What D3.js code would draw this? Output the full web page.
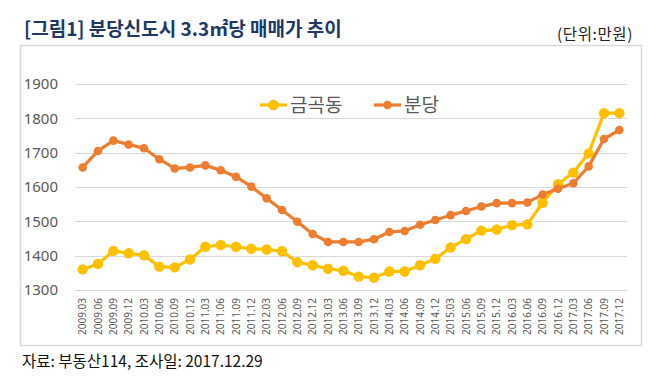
<!DOCTYPE html>
<html>
<head>
<meta charset="utf-8">
<script src="https://cdn.jsdelivr.net/npm/d3@7"></script>
<style>
  body { margin: 0; background: #fff; }
  svg text { font-family: "Noto Sans CJK KR", "Noto Sans", sans-serif; }
</style>
</head>
<body>
<div id="chart"></div>
<script>
const periods = [
  '2009.03', '2009.06', '2009.09', '2009.12', '2010.03', '2010.06', '2010.09', '2010.12',
  '2011.03', '2011.06', '2011.09', '2011.12', '2012.03', '2012.06', '2012.09', '2012.12',
  '2013.03', '2013.06', '2013.09', '2013.12', '2014.03', '2014.06', '2014.09', '2014.12',
  '2015.03', '2015.06', '2015.09', '2015.12', '2016.03', '2016.06', '2016.09', '2016.12',
  '2017.03', '2017.06', '2017.09', '2017.12',
];
const geumgok = [
  1360, 1376, 1414, 1407, 1401, 1368, 1366, 1389, 1426, 1431, 1426, 1420,
  1418, 1413, 1381, 1372, 1362, 1356, 1339, 1336, 1354, 1354, 1372, 1391,
  1424, 1448, 1473, 1476, 1489, 1491, 1554, 1608, 1642, 1698, 1815, 1815,
];
const bundang = [
  1657, 1705, 1735, 1724, 1713, 1681, 1654, 1657, 1663, 1649, 1630, 1601,
  1567, 1533, 1499, 1463, 1440, 1440, 1440, 1448, 1469, 1472, 1490, 1504,
  1518, 1530, 1543, 1553, 1553, 1555, 1578, 1595, 1611, 1660, 1740, 1766,
];
const yTicks = [1300, 1400, 1500, 1600, 1700, 1800, 1900];

const series = [
  { name: '금곡동', values: geumgok, color: '#FFC000', r: 5.2 },
  { name: '분당', values: bundang, color: '#ED7D31', r: 4.3 },
];

const width = 669;
const height = 386;

const svg = d3
  .select('#chart')
  .append('svg')
  .attr('width', width)
  .attr('height', height);

// title + unit
svg.append('text')
  .attr('x', 24)
  .attr('y', 36)
  .attr('font-size', 19)
  .attr('font-weight', 'bold')
  .attr('fill', '#203864')
  .text('[그림1] 분당신도시 3.3㎡당 매매가 추이');

svg.append('text')
  .attr('x', 633)
  .attr('y', 40)
  .attr('text-anchor', 'end')
  .attr('font-size', 15.5)
  .attr('letter-spacing', 0.6)
  .attr('fill', '#222')
  .text('(단위:만원)');

// chart frame
svg.append('rect')
  .attr('x', 20.5)
  .attr('y', 45.5)
  .attr('width', 621)
  .attr('height', 300)
  .attr('fill', 'none')
  .attr('stroke', '#d9d9d9')
  .attr('stroke-width', 1.5);

const x = d3.scaleBand().domain(periods).range([75, 627]);
const y = d3.scaleLinear().domain([1300, 1900]).range([290, 84]);

// gridlines
svg.append('g')
  .selectAll('line')
  .data(yTicks)
  .join('line')
  .attr('x1', 75)
  .attr('x2', 627)
  .attr('y1', d => Math.round(y(d)) + 0.5)
  .attr('y2', d => Math.round(y(d)) + 0.5)
  .attr('stroke', '#d9d9d9')
  .attr('stroke-width', 1);

// y labels
svg.append('g')
  .selectAll('text')
  .data(yTicks)
  .join('text')
  .attr('x', 58)
  .attr('y', d => y(d))
  .attr('dy', '0.36em')
  .attr('text-anchor', 'end')
  .attr('font-size', 15)
  .attr('fill', '#595959')
  .style('font-family', '"Noto Sans", sans-serif')
  .text(d => d);

// x labels
svg.append('g')
  .selectAll('text')
  .data(periods)
  .join('text')
  .attr('transform', d => `translate(${x(d) + x.bandwidth() / 2},298) rotate(-90)`)
  .attr('dy', '0.35em')
  .attr('text-anchor', 'end')
  .attr('font-size', 10)
  .attr('fill', '#595959')
  .style('font-family', '"Noto Sans", sans-serif')
  .text(d => d);

const line = d3
  .line()
  .x((d, i) => x(periods[i]) + x.bandwidth() / 2)
  .y(d => y(d));

series.forEach(s => {
  const g = svg.append('g');
  g.append('path')
    .attr('d', line(s.values))
    .attr('fill', 'none')
    .attr('stroke', s.color)
    .attr('stroke-width', 3.2)
    .attr('stroke-linejoin', 'round');
  g.selectAll('circle')
    .data(s.values)
    .join('circle')
    .attr('cx', (d, i) => x(periods[i]) + x.bandwidth() / 2)
    .attr('cy', d => y(d))
    .attr('r', s.r)
    .attr('fill', s.color);
});

// legend
const legend = svg.append('g');
const legendItems = [
  { s: series[0], x: 260 },
  { s: series[1], x: 374 },
];
legendItems.forEach(item => {
  legend.append('line')
    .attr('x1', item.x)
    .attr('x2', item.x + 27)
    .attr('y1', 105)
    .attr('y2', 105)
    .attr('stroke', item.s.color)
    .attr('stroke-width', 3.2);
  legend.append('circle')
    .attr('cx', item.x + 13.5)
    .attr('cy', 105)
    .attr('r', item.s.r)
    .attr('fill', item.s.color);
  legend.append('text')
    .attr('x', item.x + 30)
    .attr('y', 105)
    .attr('dy', '0.36em')
    .attr('font-size', 19)
    .attr('fill', '#595959')
    .text(item.s.name);
});

// source note
svg.append('text')
  .attr('x', 22)
  .attr('y', 367)
  .attr('font-size', 15.5)
  .attr('fill', '#111')
  .text('자료: 부동산114, 조사일: 2017.12.29');
</script>
</body>
</html>
